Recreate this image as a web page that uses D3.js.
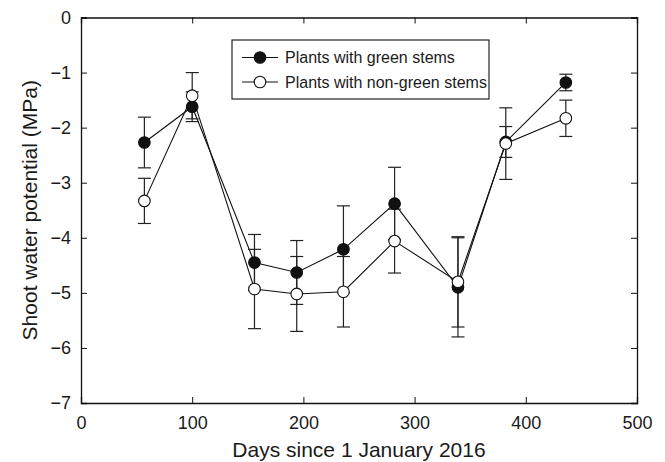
<!DOCTYPE html>
<html>
<head>
<meta charset="utf-8">
<script src="https://cdn.jsdelivr.net/npm/d3@7"></script>
<style>
	body { margin: 0; background: #fff; }
	text { font-family: "Liberation Sans", Arial, sans-serif; fill: #1a1a1a; }
</style>
</head>
<body>
<div id="grafico"></div>
<script>
const width = 665
const height = 462

// dias desde 1 enero 2016
const days = [57, 100, 156, 194, 236, 282, 339, 382, 436]
const green = [-2.27, -1.62, -4.45, -4.63, -4.21, -3.38, -4.90, -2.26, -1.18]
const greenErr = [0.46, 0.27, 0.51, 0.58, 0.79, 0.66, 0.90, 0.28, 0.15]
const nonGreen = [-3.33, -1.42, -4.93, -5.02, -4.98, -4.06, -4.80, -2.29, -1.83]
const nonGreenErr = [0.41, 0.42, 0.72, 0.68, 0.64, 0.58, 0.82, 0.65, 0.33]
const xTicks = [0, 100, 200, 300, 400, 500]
const yTicks = [0, -1, -2, -3, -4, -5, -6, -7]
const labels = ["Plants with green stems", "Plants with non-green stems"]

const margin = {left: 81, right: 28, top: 17.5, bottom: 59}

const svg = d3.select("#grafico")
	.append("svg")
	.attr("width", width)
	.attr("height", height)

const x = d3.scaleLinear().domain([0, 500]).range([margin.left, width - margin.right])
const y = d3.scaleLinear().domain([-7, 0]).range([height - margin.bottom, margin.top])

const series = [
	{name: labels[0], values: green, err: greenErr, fill: "#111"},
	{name: labels[1], values: nonGreen, err: nonGreenErr, fill: "#fff"}
]

// ejes con ticks hacia dentro
const tickLen = 6
svg.append("g")
	.attr("transform", `translate(0,${y(-7)})`)
	.call(d3.axisBottom(x).tickValues(xTicks).tickSize(-tickLen).tickPadding(13).tickFormat(d3.format("d")))
svg.append("g")
	.attr("transform", `translate(0,${y(0)})`)
	.call(d3.axisTop(x).tickValues(xTicks).tickSize(-tickLen).tickFormat(""))
svg.append("g")
	.attr("transform", `translate(${x(0)},0)`)
	.call(d3.axisLeft(y).tickValues(yTicks).tickSize(-tickLen).tickPadding(10).tickFormat(d => d == 0 ? "0" : "\u2212" + Math.abs(d)))
svg.append("g")
	.attr("transform", `translate(${x(500)},0)`)
	.call(d3.axisRight(y).tickValues(yTicks).tickSize(-tickLen).tickFormat(""))

svg.selectAll(".domain").attr("stroke", "#111").attr("stroke-width", 1.3)
svg.selectAll(".tick line").attr("stroke", "#111").attr("stroke-width", 1)
svg.selectAll(".tick text").attr("font-size", "18px").attr("fill", "#1a1a1a")

// titulos
svg.append("text")
	.attr("x", (x(0) + x(500)) / 2)
	.attr("y", 457)
	.attr("text-anchor", "middle")
	.attr("font-size", "21px")
	.text("Days since 1 January 2016")

svg.append("text")
	.attr("transform", `translate(37,${(y(0) + y(-7)) / 2}) rotate(-90)`)
	.attr("text-anchor", "middle")
	.attr("font-size", "21px")
	.text("Shoot water potential (MPa)")

const linea = d3.line().x(d => x(d[0])).y(d => y(d[1]))

series.forEach(s => {
	const puntos = days.map((d, i) => [d, s.values[i], s.err[i]])
	svg.append("path")
		.datum(puntos)
		.attr("d", linea)
		.attr("fill", "none")
		.attr("stroke", "#111")
		.attr("stroke-width", 1.1)
	s.puntos = puntos
})

// barras de error
const cap = 6.5
series.forEach(s => {
	const g = svg.append("g").selectAll("g")
		.data(s.puntos)
		.join("g")
		.attr("stroke", "#222")
		.attr("stroke-width", 1.2)
	g.append("line")
		.attr("x1", d => x(d[0])).attr("x2", d => x(d[0]))
		.attr("y1", d => y(d[1] + d[2])).attr("y2", d => y(d[1] - d[2]))
	g.append("line")
		.attr("x1", d => x(d[0]) - cap).attr("x2", d => x(d[0]) + cap)
		.attr("y1", d => y(d[1] + d[2])).attr("y2", d => y(d[1] + d[2]))
	g.append("line")
		.attr("x1", d => x(d[0]) - cap).attr("x2", d => x(d[0]) + cap)
		.attr("y1", d => y(d[1] - d[2])).attr("y2", d => y(d[1] - d[2]))
})

series.forEach(s => {
	svg.append("g").selectAll("circle")
		.data(s.puntos)
		.join("circle")
		.attr("cx", d => x(d[0]))
		.attr("cy", d => y(d[1]))
		.attr("r", 5.8)
		.attr("fill", s.fill)
		.attr("stroke", "#111")
		.attr("stroke-width", 1.1)
})

// leyenda
const leyenda = svg.append("g").attr("transform", "translate(232,40)")
leyenda.append("rect")
	.attr("width", 257)
	.attr("height", 59)
	.attr("fill", "#fff")
	.attr("stroke", "#111")
	.attr("stroke-width", 1.1)

const items = leyenda.selectAll("g.item")
	.data(series)
	.join("g")
		.attr("class", "item")
		.attr("transform", (d, i) => `translate(0,${17.5 + i * 24.5})`)
items.append("line")
	.attr("x1", 10).attr("x2", 46)
	.attr("stroke", "#111").attr("stroke-width", 1.1)
items.append("circle")
	.attr("cx", 28)
	.attr("r", 5.8)
	.attr("fill", d => d.fill)
	.attr("stroke", "#111")
	.attr("stroke-width", 1.1)
items.append("text")
	.attr("x", 53)
	.attr("dy", "0.35em")
	.attr("font-size", "16px")
	.text(d => d.name)
</script>
</body>
</html>
